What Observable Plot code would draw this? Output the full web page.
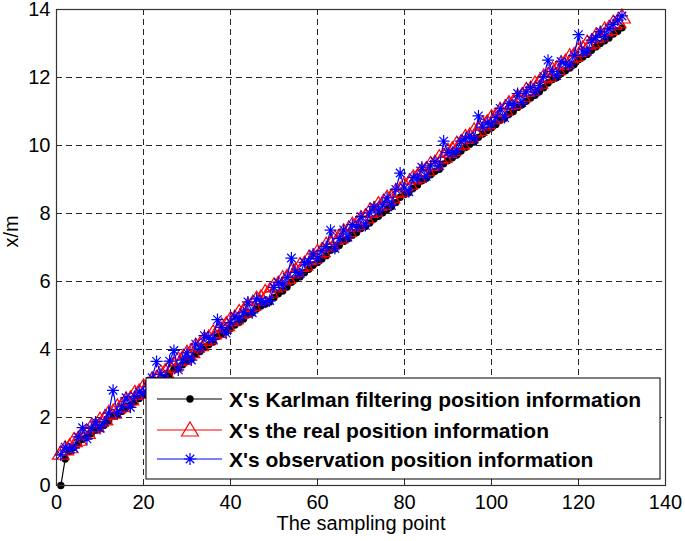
<!DOCTYPE html>
<html>
<head>
<meta charset="utf-8">
<script src="https://cdn.jsdelivr.net/npm/d3@7"></script>
<script src="https://cdn.jsdelivr.net/npm/@observablehq/plot@0.6"></script>
<style>
  html, body { margin: 0; padding: 0; background: #fff; }
  svg { display: block; }
</style>
</head>
<body>
<div id="chart"></div>
<script>
// ---- data ----
const sampleIdx = d3.range(1, 131); // sampling points 1..130

const realPos = [
  0.95, 1.08, 1.14, 1.32, 1.36, 1.53, 1.56, 1.72, 1.76, 1.92,
  1.96, 2.12, 2.16, 2.31, 2.35, 2.52, 2.55, 2.71, 2.75, 2.90,
  2.94, 3.11, 3.15, 3.31, 3.35, 3.50, 3.54, 3.70, 3.74, 3.89,
  3.94, 4.10, 4.14, 4.30, 4.34, 4.49, 4.53, 4.69, 4.73, 4.88,
  4.93, 5.09, 5.13, 5.29, 5.33, 5.48, 5.52, 5.68, 5.72, 5.87,
  5.92, 6.08, 6.12, 6.28, 6.32, 6.47, 6.51, 6.67, 6.71, 6.86,
  6.91, 7.07, 7.11, 7.27, 7.31, 7.46, 7.50, 7.66, 7.70, 7.85,
  7.90, 8.06, 8.10, 8.26, 8.30, 8.45, 8.49, 8.65, 8.69, 8.84,
  8.89, 9.05, 9.09, 9.25, 9.29, 9.44, 9.48, 9.64, 9.68, 9.83,
  9.88, 10.04, 10.08, 10.24, 10.28, 10.43, 10.47, 10.63, 10.67, 10.82,
  10.87, 11.03, 11.07, 11.23, 11.27, 11.42, 11.46, 11.62, 11.66, 11.81,
  11.86, 12.02, 12.06, 12.22, 12.26, 12.41, 12.45, 12.61, 12.65, 12.80,
  12.85, 13.01, 13.05, 13.21, 13.25, 13.40, 13.44, 13.60, 13.64, 13.78
];

const kalmanPos = [
  0.00, 0.78, 1.00, 1.12, 1.22, 1.36, 1.42, 1.52, 1.62, 1.70,
  1.78, 1.90, 2.05, 2.10, 2.18, 2.30, 2.36, 2.46, 2.56, 2.66,
  2.75, 2.86, 3.02, 3.10, 3.16, 3.28, 3.42, 3.45, 3.55, 3.66,
  3.72, 3.86, 3.94, 4.06, 4.14, 4.22, 4.38, 4.46, 4.52, 4.62,
  4.72, 4.80, 4.90, 5.02, 5.08, 5.20, 5.28, 5.34, 5.40, 5.52,
  5.64, 5.72, 5.84, 5.98, 6.08, 6.14, 6.26, 6.36, 6.48, 6.56,
  6.66, 6.76, 6.92, 6.96, 7.06, 7.18, 7.26, 7.36, 7.44, 7.56,
  7.62, 7.72, 7.84, 7.92, 8.02, 8.12, 8.20, 8.32, 8.48, 8.56,
  8.62, 8.74, 8.84, 8.96, 9.04, 9.14, 9.24, 9.30, 9.46, 9.56,
  9.64, 9.72, 9.84, 9.94, 10.04, 10.10, 10.24, 10.34, 10.44, 10.52,
  10.62, 10.74, 10.80, 10.92, 11.00, 11.12, 11.20, 11.30, 11.40, 11.48,
  11.58, 11.70, 11.84, 11.94, 12.00, 12.12, 12.20, 12.28, 12.38, 12.52,
  12.60, 12.68, 12.80, 12.90, 13.00, 13.08, 13.16, 13.28, 13.36, 13.46
];

const obsPos = [
  0.90, 1.13, 1.07, 1.10, 1.43, 1.70, 1.37, 1.68, 1.87, 1.68,
  1.87, 2.13, 2.80, 2.12, 2.31, 2.58, 2.30, 2.62, 2.75, 2.71,
  2.90, 3.17, 3.65, 3.27, 3.15, 3.66, 3.97, 3.40, 3.69, 3.90,
  3.69, 4.16, 4.04, 4.41, 4.34, 4.30, 4.88, 4.65, 4.48, 4.79,
  4.98, 4.90, 5.08, 5.40, 5.08, 5.49, 5.42, 5.39, 5.44, 5.83,
  5.97, 5.89, 6.12, 6.69, 6.27, 6.23, 6.56, 6.58, 6.81, 6.67,
  6.91, 7.03, 7.51, 6.97, 7.26, 7.52, 7.30, 7.67, 7.60, 7.91,
  7.65, 8.02, 8.20, 8.07, 8.25, 8.46, 8.24, 8.71, 9.19, 8.75,
  8.64, 9.06, 9.04, 9.36, 9.09, 9.40, 9.53, 9.40, 10.13, 9.79,
  9.78, 9.85, 10.13, 10.20, 10.28, 10.19, 10.87, 10.54, 10.67, 10.63,
  10.82, 11.09, 10.82, 11.24, 11.17, 11.53, 11.26, 11.58, 11.71, 11.57,
  11.76, 12.03, 12.51, 12.18, 12.06, 12.47, 12.40, 12.37, 12.65, 13.26,
  12.75, 12.77, 13.10, 13.17, 13.35, 13.21, 13.44, 13.56, 13.69, 13.81
];

const xTicks = [0, 20, 40, 60, 80, 100, 120, 140];
const yTicks = [0, 2, 4, 6, 8, 10, 12, 14];

const seriesNames = [
  "X's Karlman filtering position information",
  "X's the real position information",
  "X's observation position information"
];
const seriesColors = ["#000000", "#ff0000", "#0000ff"];

// ---- tidy tables ----
const kalmanRows = sampleIdx.map((k, i) => ({k, v: kalmanPos[i]}));
const realRows = sampleIdx.map((k, i) => ({k, v: realPos[i]}));
const obsRows = sampleIdx.map((k, i) => ({k, v: obsPos[i]}));

// ---- custom marker symbols (MATLAB-like) ----
const triSym = {
  draw(ctx, size) {
    const r = Math.sqrt(size / Math.PI);
    ctx.moveTo(0, -r);
    ctx.lineTo(r * 1.05, r * 0.75);
    ctx.lineTo(-r * 1.05, r * 0.75);
    ctx.closePath();
  }
};
const starSym = {
  draw(ctx, size) {
    const r = Math.sqrt(size / Math.PI);
    const d = r * 0.7071;
    ctx.moveTo(-r, 0); ctx.lineTo(r, 0);
    ctx.moveTo(0, -r); ctx.lineTo(0, r);
    ctx.moveTo(-d, -d); ctx.lineTo(d, d);
    ctx.moveTo(-d, d); ctx.lineTo(d, -d);
  }
};

const FONT = "'Liberation Sans', Arial, Helvetica, sans-serif";
const SW = 1.2;

const chart = Plot.plot({
  width: 685,
  height: 541,
  marginLeft: 56,
  marginRight: 20,
  marginTop: 9,
  marginBottom: 56,
  style: {fontFamily: FONT, fontSize: "20px", background: "#fff", color: "#000"},
  x: {domain: [0, 140]},
  y: {domain: [0, 14]},
  marks: [
    Plot.gridX(xTicks, {stroke: "#000", strokeOpacity: 0.85, strokeWidth: 1, strokeDasharray: "6,4"}),
    Plot.gridY(yTicks, {stroke: "#000", strokeOpacity: 0.85, strokeWidth: 1, strokeDasharray: "6,4"}),
    Plot.axisX(xTicks, {tickSize: 0, tickPadding: 9, fontSize: 20, label: null}),
    Plot.axisY(yTicks, {tickSize: 0, tickPadding: 6, fontSize: 20, label: null}),
    Plot.text(["The sampling point"], {frameAnchor: "bottom", dy: 44, fontSize: 20, fill: "#000"}),
    Plot.text(["x/m"], {frameAnchor: "left", dx: -45, rotate: -90, fontSize: 20, fill: "#000"}),
    // Kalman series
    Plot.line(kalmanRows, {x: "k", y: "v", stroke: seriesColors[0], strokeWidth: SW}),
    Plot.dot(kalmanRows, {x: "k", y: "v", r: 3.7, fill: seriesColors[0], stroke: "none"}),
    // real series
    Plot.line(realRows, {x: "k", y: "v", stroke: seriesColors[1], strokeWidth: SW}),
    Plot.dot(realRows, {x: "k", y: "v", r: 8, symbol: triSym, fill: "none", stroke: seriesColors[1], strokeWidth: SW}),
    // observation series
    Plot.line(obsRows, {x: "k", y: "v", stroke: seriesColors[2], strokeWidth: SW}),
    Plot.dot(obsRows, {x: "k", y: "v", r: 6, symbol: starSym, fill: "none", stroke: seriesColors[2], strokeWidth: SW}),
    Plot.frame({stroke: "#333", strokeWidth: 1.2})
  ]
});

document.getElementById("chart").appendChild(chart);

// ---- legend box (MATLAB style, inside the axes) ----
const svg = d3.select(chart);
const lg = svg.append("g").attr("text-anchor", "start");
lg.append("rect")
  .attr("x", 146).attr("y", 378).attr("width", 514).attr("height", 101)
  .attr("fill", "#fff").attr("stroke", "#000").attr("stroke-width", 1);
const rowY = [399, 430, 459];
const legendSyms = [
  {sym: d3.symbolCircle, size: Math.PI * 3.7 * 3.7, fill: seriesColors[0], stroke: "none"},
  {sym: triSym, size: Math.PI * 64, fill: "none", stroke: seriesColors[1]},
  {sym: starSym, size: Math.PI * 36, fill: "none", stroke: seriesColors[2]}
];
seriesNames.forEach((name, i) => {
  const y = rowY[i];
  lg.append("line").attr("x1", 157).attr("x2", 222).attr("y1", y).attr("y2", y)
    .attr("stroke", seriesColors[i]).attr("stroke-width", 1);
  lg.append("path").attr("transform", `translate(190,${y})`)
    .attr("d", d3.symbol(legendSyms[i].sym, legendSyms[i].size)())
    .attr("fill", legendSyms[i].fill).attr("stroke", legendSyms[i].stroke).attr("stroke-width", 1.2);
  lg.append("text").attr("x", 229).attr("y", y).attr("dy", "0.36em")
    .attr("text-anchor", "start")
    .attr("font-family", FONT).attr("font-weight", "bold").attr("font-size", 21)
    .attr("fill", "#000").text(name);
});
</script>
</body>
</html>
